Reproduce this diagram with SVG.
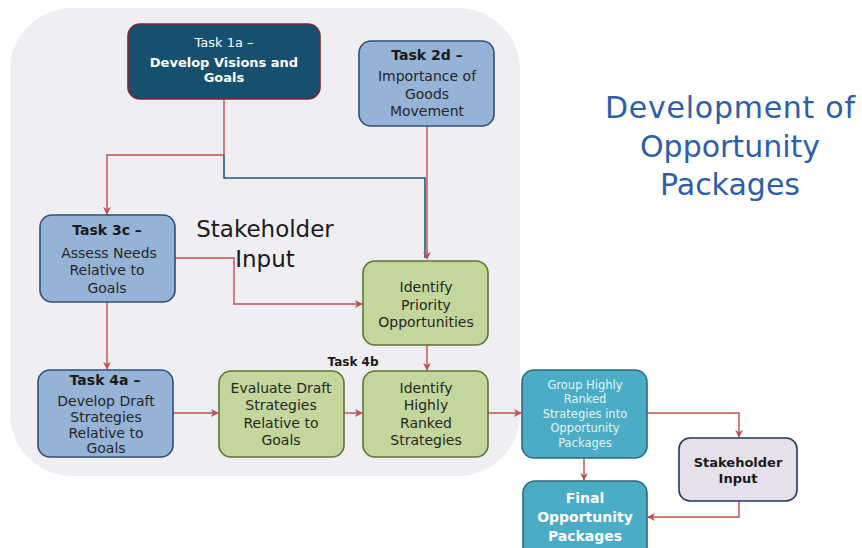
<svg xmlns="http://www.w3.org/2000/svg" width="862" height="548" viewBox="0 0 862 548">
  <defs>
    <marker id="arr" viewBox="0 0 10 10" refX="9" refY="5" markerWidth="8" markerHeight="8" markerUnits="userSpaceOnUse" orient="auto">
      <path d="M0,0 L10,5 L0,10 L3,5 z" fill="#c0504d"/>
    </marker>
    <style>
      text { font-family: "DejaVu Sans", "Liberation Sans", sans-serif; text-anchor: middle; }
      .blue rect { fill: #95b3d7; stroke: #2f4e78; stroke-width: 1.6; }
      .green rect { fill: #c3d69b; stroke: #5f7530; stroke-width: 1.6; }
      .teal rect { fill: #4bacc6; stroke: #2c6a7d; stroke-width: 1.6; }
      .lbl { font-size: 14px; fill: #262626; }
      .hd { font-size: 14px; font-weight: bold; fill: #1a1a1a; }
      .wire { fill: none; stroke: #c0504d; stroke-width: 1.4; }
      .wire-blue { fill: none; stroke: #1f5a82; stroke-width: 1.6; }
    </style>
  </defs>

  <rect width="862" height="548" fill="#ffffff"/>
  <!-- shaded stakeholder region -->
  <rect x="10" y="8" width="510" height="468" rx="62" fill="#f0eef3"/>

  <text x="265" y="237" font-size="23" fill="#1a1a1a">Stakeholder</text>
  <text x="265" y="267" font-size="23" fill="#1a1a1a">Input</text>

  <g font-size="30" fill="#2e5ea8">
    <text x="730" y="118" font-size="30" fill="#2e5ea8" textLength="250">Development of</text>
    <text x="730" y="157" font-size="30" fill="#2e5ea8">Opportunity</text>
    <text x="730" y="195" font-size="30" fill="#2e5ea8">Packages</text>
  </g>

  <g id="connectors">
    <path class="wire-blue" d="M224,155 V178 H425 V258"/>
    <path class="wire" d="M224,99 V155 H107 V214" marker-end="url(#arr)"/>
    <path class="wire" d="M427,126 V259" marker-end="url(#arr)"/>
    <path class="wire" d="M175,258 H234 V304 H362" marker-end="url(#arr)"/>
    <path class="wire" d="M107,302 V369" marker-end="url(#arr)"/>
    <path class="wire" d="M173,413 H218" marker-end="url(#arr)"/>
    <path class="wire" d="M344,413 H362" marker-end="url(#arr)"/>
    <path class="wire" d="M427,345 V370" marker-end="url(#arr)"/>
    <path class="wire" d="M488,413 H521" marker-end="url(#arr)"/>
    <path class="wire" d="M647,413 H739 V437" marker-end="url(#arr)"/>
    <path class="wire" d="M584,458 V480" marker-end="url(#arr)"/>
    <path class="wire" d="M739,501 V517 H648" marker-end="url(#arr)"/>
  </g>

  <g id="task1a">
    <rect x="128" y="24" width="192" height="75" rx="12" fill="#174f6e" stroke="#7b2a2e" stroke-width="1.6"/>
    <text x="224" y="47" font-size="13" fill="#ffffff">Task 1a –</text>
    <text x="224" y="67" font-size="13" font-weight="bold" fill="#ffffff">Develop Visions and</text>
    <text x="224" y="82" font-size="13" font-weight="bold" fill="#ffffff">Goals</text>
  </g>

  <g id="task2d" class="blue">
    <rect x="359" y="41" width="135" height="85" rx="12"/>
    <text class="hd" x="427" y="60">Task 2d –</text>
    <text class="lbl" x="427" y="81">Importance of</text>
    <text class="lbl" x="427" y="99">Goods</text>
    <text class="lbl" x="427" y="116">Movement</text>
  </g>

  <g id="task3c" class="blue">
    <rect x="40" y="215" width="135" height="87" rx="12"/>
    <text class="hd" x="107" y="235">Task 3c –</text>
    <text class="lbl" x="109" y="258">Assess Needs</text>
    <text class="lbl" x="107" y="275">Relative to</text>
    <text class="lbl" x="107" y="293">Goals</text>
  </g>

  <g id="task4a" class="blue">
    <rect x="38" y="370" width="135" height="87" rx="12"/>
    <text class="hd" x="105" y="385">Task 4a –</text>
    <text class="lbl" x="106" y="406">Develop Draft</text>
    <text class="lbl" x="106" y="422">Strategies</text>
    <text class="lbl" x="106" y="438">Relative to</text>
    <text class="lbl" x="106" y="453">Goals</text>
  </g>

  <g id="evaluate" class="green">
    <rect x="219" y="371" width="125" height="86" rx="12"/>
    <text class="lbl" x="281" y="393">Evaluate Draft</text>
    <text class="lbl" x="281" y="410">Strategies</text>
    <text class="lbl" x="281" y="428">Relative to</text>
    <text class="lbl" x="281" y="445">Goals</text>
  </g>

  <g id="priority" class="green">
    <rect x="363" y="261" width="125" height="84" rx="12"/>
    <text class="lbl" x="426" y="292">Identify</text>
    <text class="lbl" x="426" y="310">Priority</text>
    <text class="lbl" x="426" y="327">Opportunities</text>
  </g>

  <g id="task4b">
    <text x="353" y="366" font-size="12" font-weight="bold" fill="#1a1a1a">Task 4b</text>
  </g>

  <g id="ranked" class="green">
    <rect x="363" y="371" width="125" height="86" rx="12"/>
    <text class="lbl" x="426" y="393">Identify</text>
    <text class="lbl" x="426" y="410">Highly</text>
    <text class="lbl" x="426" y="428">Ranked</text>
    <text class="lbl" x="426" y="445">Strategies</text>
  </g>

  <g id="group" class="teal">
    <rect x="522" y="370" width="125" height="88" rx="12"/>
    <text x="585" y="389" font-size="11.5" fill="#e4f3f7">Group Highly</text>
    <text x="585" y="403" font-size="11.5" fill="#e4f3f7">Ranked</text>
    <text x="585" y="418" font-size="11.5" fill="#e4f3f7">Strategies into</text>
    <text x="585" y="432" font-size="11.5" fill="#e4f3f7">Opportunity</text>
    <text x="585" y="447" font-size="11.5" fill="#e4f3f7">Packages</text>
  </g>

  <g id="stakeholder">
    <rect x="679" y="438" width="118" height="63" rx="11" fill="#e6e0ec" stroke="#1f3a5f" stroke-width="1.6"/>
    <text x="738" y="467" font-size="13" font-weight="bold" fill="#1a1a1a">Stakeholder</text>
    <text x="738" y="483" font-size="13" font-weight="bold" fill="#1a1a1a">Input</text>
  </g>

  <g id="final" class="teal">
    <rect x="523" y="481" width="124" height="80" rx="12"/>
    <text x="585" y="503" font-size="14" font-weight="bold" fill="#ffffff">Final</text>
    <text x="585" y="522" font-size="14" font-weight="bold" fill="#ffffff">Opportunity</text>
    <text x="585" y="541" font-size="14" font-weight="bold" fill="#ffffff">Packages</text>
  </g>
</svg>
